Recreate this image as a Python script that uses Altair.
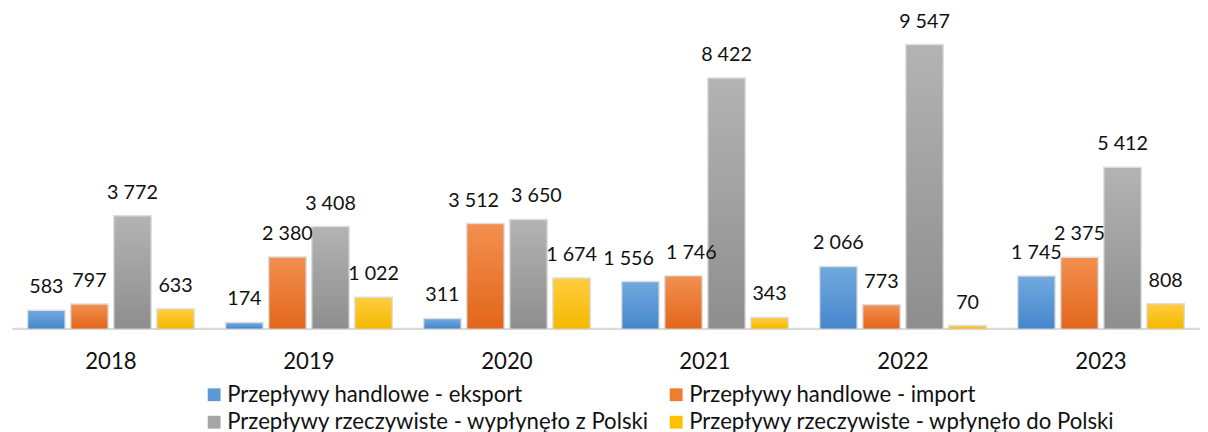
import altair as alt
import pandas as pd

years = ["2018", "2019", "2020", "2021", "2022", "2023"]
series = [
    "Przepływy handlowe - eksport",
    "Przepływy handlowe - import",
    "Przepływy rzeczywiste - wypłynęło z Polski",
    "Przepływy rzeczywiste - wpłynęło do Polski",
]
export_vals = [583, 174, 311, 1556, 2066, 1745]
import_vals = [797, 2380, 3512, 1746, 773, 2375]
outflow_vals = [3772, 3408, 3650, 8422, 9547, 5412]
inflow_vals = [633, 1022, 1674, 343, 70, 808]

flat_colors = ["#5B9BD5", "#ED7D31", "#A5A5A5", "#FFC000"]
grad_stops = [
    ("#71A9DE", "#4687CC"),
    ("#F38F4F", "#E2661B"),
    ("#B3B3B3", "#8E8E8E"),
    ("#FFCC3F", "#F4B900"),
]
# legend fills column by column: order so rows read as in the reference
legend_order = [series[0], series[2], series[1], series[3]]
legend_colors = [flat_colors[0], flat_colors[2], flat_colors[1], flat_colors[3]]

rows = []
for i, (s, vals) in enumerate(zip(series, [export_vals, import_vals, outflow_vals, inflow_vals])):
    for y, v in zip(years, vals):
        rows.append({"year": y, "series": s, "order": i, "value": v})
df = pd.DataFrame(rows)

FONT = "Lato"

base = alt.Chart(df).encode(
    x=alt.X(
        "year:N",
        sort=years,
        scale=alt.Scale(paddingInner=0.166, paddingOuter=0.083),
        axis=alt.Axis(
            title=None,
            labelAngle=0,
            ticks=False,
            domainColor="#D9D9D9",
            domainWidth=2.5,
            labelFont=FONT,
            labelFontSize=22.5,
            labelColor="#111111",
            labelBaseline="alphabetic",
            labelPadding=41,
            grid=False,
        ),
    ),
    xOffset=alt.XOffset(
        "series:N", sort=series,
        scale=alt.Scale(domain=series, paddingInner=0.165, paddingOuter=0),
    ),
    y=alt.Y("value:Q", scale=alt.Scale(domain=[0, 10700], nice=False), axis=None),
)

shadow = base.mark_bar(stroke="#D6D6D6", strokeWidth=3, strokeOpacity=0.8).encode(
    color=alt.Color(
        "series:N",
        scale=alt.Scale(domain=legend_order, range=legend_colors),
        legend=alt.Legend(
            title=None,
            orient="none",
            legendX=194,
            legendY=378,
            columns=2,
            padding=0,
            symbolType="square",
            symbolSize=170,
            symbolStrokeWidth=0,
            labelFont=FONT,
            labelFontSize=22.5,
            labelColor="#111111",
            labelOffset=2,
            columnPadding=16,
            rowPadding=5,
            labelLimit=700,
        ),
    )
)

layers = [shadow]
for s, (c1, c2) in zip(series, grad_stops):
    grad = alt.Gradient(
        gradient="linear",
        stops=[alt.GradientStop(color=c1, offset=0), alt.GradientStop(color=c2, offset=1)],
        x1=0, x2=0, y1=0, y2=1,
    )
    layers.append(base.mark_bar(color=grad).transform_filter(alt.datum.series == s))

# value labels; neighbouring wide labels at similar heights are spread apart
# (as the spreadsheet's label placement does)
collide = "(datum.value >= 1000 && isValid(datum.{n}) && datum.{n} >= 1000 && abs(datum.{n} - datum.value) < 500)"
label_base = base.transform_calculate(
    label="replace(format(datum.value, ','), ',', ' ')"
).transform_window(
    next_val="lead(value)",
    prev_val="lag(value)",
    groupby=["year"],
    sort=[alt.SortField("order")],
).transform_calculate(
    shift=f"{collide.format(n='next_val')} ? -1 : ({collide.format(n='prev_val')} ? 1 : 0)"
)
for shift, dx in [(-1, -12), (0, 0), (1, 8)]:
    layers.append(
        label_base.mark_text(
            dy=-18, dx=dx, baseline="alphabetic", font=FONT, fontSize=20, color="#111111"
        ).transform_filter(alt.datum.shift == shift).encode(text="label:N")
    )

chart = alt.layer(*layers).properties(
    width=1206,
    height=322,
    autosize=alt.AutoSizeParams(type="none"),
    padding={"left": 4, "top": 0, "right": 0, "bottom": 104},
).configure_view(stroke=None)

chart.save("out.html", embed_options={"renderer": "svg", "actions": False})
